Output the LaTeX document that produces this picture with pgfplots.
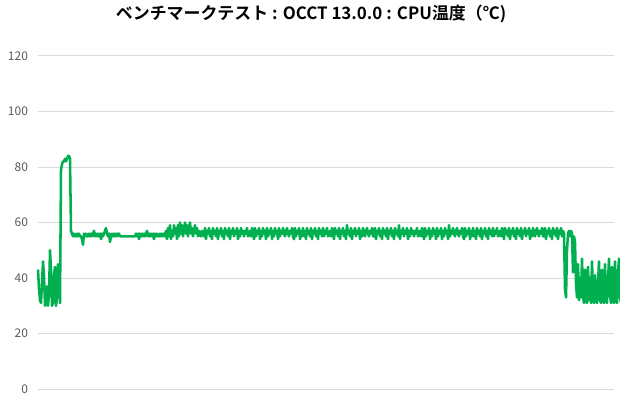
\documentclass[border=0pt]{standalone}
\usepackage{fontspec}
\setmainfont{Noto Sans CJK JP}[BoldFont={Noto Sans CJK JP Bold}]
\usepackage{pgfplots}
\pgfplotsset{compat=1.18}
\definecolor{linegreen}{RGB}{0,176,80}
\definecolor{gridgray}{RGB}{217,217,217}
\definecolor{ticktext}{RGB}{89,89,89}
\begin{document}
\begin{tikzpicture}
% picture 620x400 px, plot area 576x333 px, 1px = 0.75pt; one sample per px
\path[use as bounding box] (-28.5pt,-8.25pt) rectangle (436.5pt,291.75pt);
\begin{axis}[
    scale only axis,
    width=432pt, height=249.75pt,
    at={(0,0)}, anchor=south west,
    xmin=0, xmax=576,
    ymin=0, ymax=120,
    ytick={0,20,...,120},
    xtick=\empty,
    axis line style={draw=none},
    major tick length=0pt,
    ymajorgrids=true,
    grid style={gridgray, line width=0.75pt},
    tick label style={font=\fontsize{9}{10}\selectfont, text=ticktext},
    yticklabel style={xshift=-4pt},
    /pgf/number format/assume math mode=true,
    title={ベンチマークテスト : OCCT 13.0.0 : CPU温度（℃)},
    title style={at={(0.474,1.102)}, anchor=center, font=\fontsize{12.7}{14}\selectfont\bfseries},
    clip=false,
]
\addplot[color=linegreen, line width=1.9pt, line join=round] table[row sep=\\, x expr=\coordindex, y index=0] {
v\\
43\\36\\32\\31\\38\\46\\41\\30\\32\\37\\30\\34\\50\\43\\30\\31\\41\\44\\30\\33\\45\\38\\31\\
79\\81\\82\\82\\83\\82\\83\\84\\84\\83\\
57\\
56\\55\\56\\55\\55\\56\\55\\56\\55\\55\\
54\\52\\56\\55\\56\\55\\55\\56\\55\\56\\
55\\56\\57\\55\\56\\55\\56\\55\\56\\54\\
56\\55\\56\\57\\58\\56\\55\\56\\53\\55\\
56\\55\\56\\55\\56\\55\\56\\56\\55\\55\\
55\\55\\55\\55\\55\\55\\55\\55\\55\\55\\
55\\55\\55\\55\\56\\55\\56\\54\\56\\55\\
56\\55\\56\\55\\56\\57\\55\\56\\55\\56\\
55\\56\\54\\56\\55\\56\\55\\55\\56\\55\\
56\\55\\56\\55\\
57\\54\\58\\55\\59\\54\\57\\55\\59\\56\\
58\\54\\59\\55\\60\\56\\59\\55\\57\\60\\
56\\59\\55\\58\\60\\56\\58\\55\\57\\59\\
56\\58\\55\\57\\56\\55\\57\\56\\
55\\58\\54\\57\\56\\58\\55\\57\\54\\58\\
56\\57\\55\\58\\54\\57\\56\\58\\55\\57\\
54\\58\\56\\57\\55\\58\\54\\57\\56\\58\\
55\\57\\56\\58\\54\\57\\55\\58\\56\\57\\
55\\57\\56\\58\\55\\56\\57\\55\\58\\56\\
54\\58\\55\\57\\56\\58\\54\\57\\55\\58\\
56\\57\\54\\58\\55\\57\\56\\58\\54\\57\\
55\\58\\56\\57\\54\\58\\55\\57\\56\\58\\
56\\55\\57\\58\\56\\55\\57\\56\\58\\55\\
54\\58\\55\\57\\56\\58\\54\\57\\55\\58\\
55\\57\\54\\58\\56\\57\\55\\58\\54\\57\\
56\\58\\55\\57\\54\\58\\56\\57\\55\\58\\
55\\57\\56\\58\\55\\56\\57\\55\\58\\56\\
54\\58\\56\\57\\55\\58\\54\\57\\56\\58\\
55\\57\\54\\59\\56\\57\\55\\58\\54\\57\\
56\\58\\55\\57\\56\\58\\54\\57\\55\\58\\
56\\55\\57\\58\\56\\55\\57\\56\\58\\55\\
55\\58\\54\\57\\56\\58\\55\\57\\54\\58\\
56\\57\\55\\58\\54\\57\\56\\58\\55\\57\\
54\\58\\56\\57\\55\\59\\54\\57\\56\\58\\
55\\57\\56\\58\\54\\57\\55\\58\\56\\57\\
55\\57\\56\\58\\55\\56\\57\\55\\58\\56\\
54\\58\\55\\57\\56\\58\\54\\57\\55\\58\\
56\\57\\54\\58\\55\\57\\56\\58\\54\\57\\
55\\58\\56\\57\\54\\59\\55\\57\\56\\58\\
56\\55\\57\\58\\56\\55\\57\\56\\58\\55\\
54\\58\\55\\57\\56\\58\\54\\57\\55\\58\\
55\\57\\54\\58\\56\\57\\55\\58\\54\\57\\
56\\58\\55\\57\\54\\58\\56\\57\\55\\58\\
55\\57\\56\\58\\55\\56\\57\\55\\58\\56\\
54\\58\\56\\57\\55\\58\\54\\57\\56\\58\\
55\\57\\54\\58\\56\\57\\55\\58\\54\\57\\
56\\58\\55\\57\\56\\58\\54\\57\\55\\58\\
56\\55\\57\\58\\56\\55\\57\\56\\58\\55\\
55\\58\\54\\57\\56\\58\\55\\57\\54\\58\\
56\\57\\55\\58\\54\\57\\56\\58\\55\\57\\
56\\
36\\33\\50\\56\\57\\55\\57\\56\\42\\55\\
53\\38\\33\\45\\32\\40\\33\\47\\33\\31\\
43\\35\\31\\44\\32\\40\\31\\46\\34\\31\\
41\\33\\31\\38\\46\\32\\31\\43\\37\\31\\
45\\33\\31\\39\\47\\34\\31\\44\\36\\31\\
46\\33\\31\\42\\47\\33\\31\\40\\46\\33\\
};
\end{axis}
\end{tikzpicture}
\end{document}
